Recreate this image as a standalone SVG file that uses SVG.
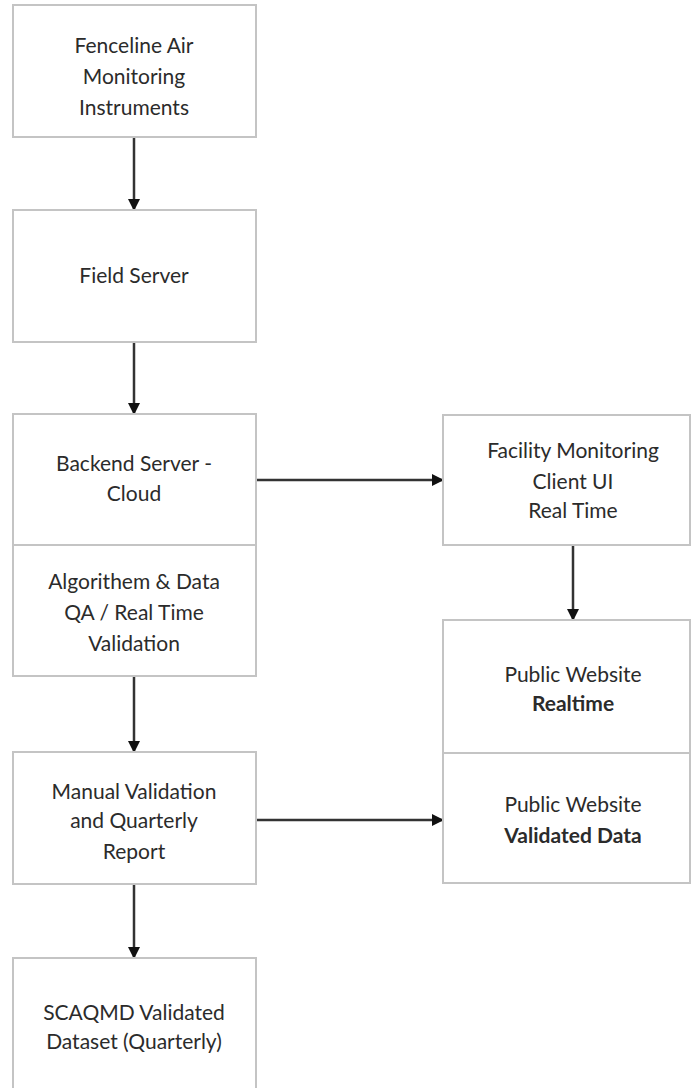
<svg xmlns="http://www.w3.org/2000/svg" width="692" height="1088" viewBox="0 0 692 1088">
<style>
.box{fill:#fff;stroke:#c4c4c4;stroke-width:2}
.t{font-family:Lato,"Open Sans",sans-serif;font-size:21px;fill:#2b2b2b;text-anchor:middle}
.b{font-weight:bold}
.c{stroke:#333;stroke-width:2.5;fill:none;marker-end:url(#ah)}
</style>
<defs>
<marker id="ah" markerWidth="12" markerHeight="12" refX="11" refY="6" orient="auto" markerUnits="userSpaceOnUse">
<path d="M0,0 L12,6 L0,12 Z" fill="#111"/>
</marker>
</defs>
<rect width="692" height="1088" fill="#fff"/>
<g id="connectors">
<line class="c" x1="134" y1="137" x2="134" y2="210"/>
<line class="c" x1="134" y1="342" x2="134" y2="414"/>
<line class="c" x1="134" y1="676" x2="134" y2="752"/>
<line class="c" x1="134" y1="884" x2="134" y2="958"/>
<line class="c" x1="256" y1="480" x2="443" y2="480"/>
<line class="c" x1="573" y1="545" x2="573" y2="620"/>
<line class="c" x1="256" y1="820" x2="443" y2="820"/>
</g>
<g id="fenceline">
<rect class="box" x="13" y="5" width="243" height="132"/>
<text class="t" x="134" y="53">Fenceline Air</text>
<text class="t" x="134" y="84">Monitoring</text>
<text class="t" x="134" y="115">Instruments</text>
</g>
<g id="field-server">
<rect class="box" x="13" y="210" width="243" height="132"/>
<text class="t" x="134" y="283">Field Server</text>
</g>
<g id="backend">
<rect class="box" x="13" y="414" width="243" height="131"/>
<text class="t" x="134" y="471">Backend Server -</text>
<text class="t" x="134" y="501">Cloud</text>
</g>
<g id="algorithem">
<rect class="box" x="13" y="545" width="243" height="131"/>
<text class="t" x="134" y="589">Algorithem &amp; Data</text>
<text class="t" x="134" y="620">QA / Real Time</text>
<text class="t" x="134" y="651">Validation</text>
</g>
<g id="manual">
<rect class="box" x="13" y="752" width="243" height="132"/>
<text class="t" x="134" y="799">Manual Validation</text>
<text class="t" x="134" y="828">and Quarterly</text>
<text class="t" x="134" y="859">Report</text>
</g>
<g id="scaqmd">
<rect class="box" x="13" y="958" width="243" height="140"/>
<text class="t" x="134" y="1020">SCAQMD Validated</text>
<text class="t" x="134" y="1049">Dataset (Quarterly)</text>
</g>
<g id="facility">
<rect class="box" x="443" y="415" width="247" height="130"/>
<text class="t" x="573" y="458">Facility Monitoring</text>
<text class="t" x="573" y="489">Client UI</text>
<text class="t" x="573" y="518">Real Time</text>
</g>
<g id="public-realtime">
<rect class="box" x="443" y="620" width="247" height="133"/>
<text class="t" x="573" y="682">Public Website</text>
<text class="t b" x="573" y="711">Realtime</text>
</g>
<g id="public-validated">
<rect class="box" x="443" y="753" width="247" height="130"/>
<text class="t" x="573" y="812">Public Website</text>
<text class="t b" x="573" y="843">Validated Data</text>
</g>
</svg>
